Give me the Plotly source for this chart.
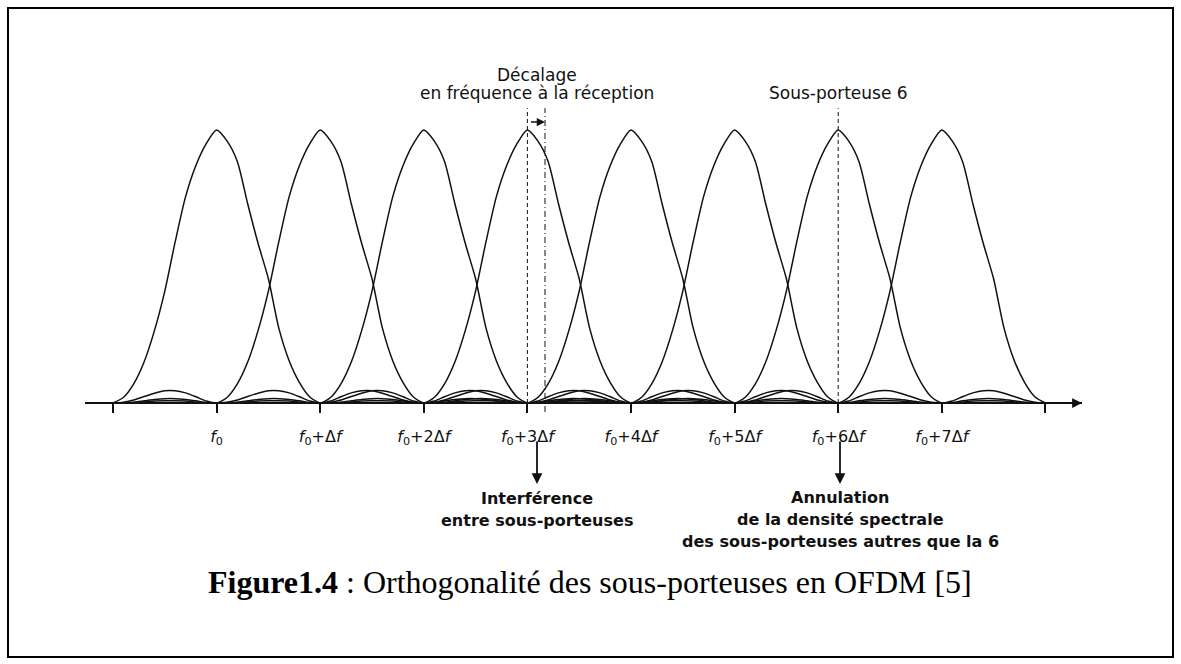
import plotly.graph_objects as go

# ---- data -----------------------------------------------------------------
# normalised spectral density of one sub-carrier vs. offset from its centre (in Δf)
pulse_offsets = [0.0, 0.1, 0.2, 0.3, 0.4, 0.5, 0.6, 0.7, 0.8, 0.9,
                 1.0, 1.1, 1.2, 1.3, 1.4, 1.5, 1.6, 1.7, 1.8, 1.9,
                 2.0, 2.1, 2.2, 2.3, 2.4, 2.5, 2.6, 2.7, 2.8, 2.9,
                 3.0, 3.1, 3.2, 3.3, 3.4, 3.5, 3.6, 3.7, 3.8, 3.9, 4.0]
# right-hand side of the pulse (higher frequencies)
pulse_right = [1.00, 0.96, 0.885, 0.73, 0.585, 0.455, 0.275, 0.155, 0.075, 0.022,
               0.0, 0.007, 0.023, 0.037, 0.045, 0.045, 0.036, 0.024, 0.011, 0.003,
               0.0, 0.002, 0.008, 0.013, 0.016, 0.016, 0.013, 0.008, 0.003, 0.001,
               0.0, 0.001, 0.004, 0.007, 0.008, 0.008, 0.007, 0.004, 0.002, 0.0005, 0.0]
# left-hand side of the pulse (lower frequencies)
pulse_left = [1.00, 0.95, 0.87, 0.755, 0.59, 0.41, 0.265, 0.15, 0.07, 0.02,
              0.0, 0.007, 0.023, 0.037, 0.045, 0.045, 0.036, 0.024, 0.011, 0.003,
              0.0, 0.002, 0.008, 0.013, 0.016, 0.016, 0.013, 0.008, 0.003, 0.001,
              0.0, 0.001, 0.004, 0.007, 0.008, 0.008, 0.007, 0.004, 0.002, 0.0005, 0.0]
carriers = [0, 1, 2, 3, 4, 5, 6, 7]
freq_span = [-1, 8]
tick_positions = [-1, 0, 1, 2, 3, 4, 5, 6, 7, 8]
tick_labels = ["", "<i>f</i><sub>0</sub>", "<i>f</i><sub>0</sub>+Δ<i>f</i>",
               "<i>f</i><sub>0</sub>+2Δ<i>f</i>", "<i>f</i><sub>0</sub>+3Δ<i>f</i>",
               "<i>f</i><sub>0</sub>+4Δ<i>f</i>", "<i>f</i><sub>0</sub>+5Δ<i>f</i>",
               "<i>f</i><sub>0</sub>+6Δ<i>f</i>", "<i>f</i><sub>0</sub>+7Δ<i>f</i>", ""]
interference_carrier = 3
reception_offset = 0.17
observed_carrier = 6
marker_top = 1.08

top_left_text = ["Décalage", "en fréquence à la réception"]
top_right_text = ["Sous-porteuse 6"]
bottom_left_text = ["Interférence", "entre sous-porteuses"]
bottom_right_text = ["Annulation", "de la densité spectrale",
                     "des sous-porteuses autres que la 6"]
caption = "<b>Figure1.4</b> : Orthogonalité des sous-porteuses en OFDM [5]"

# ---- geometry ---------------------------------------------------------------
W, H = 1181, 664
PX_PER_DF = 103.6          # pixels per Δf
X_START_PX = 113           # pixel of freq_span[0]
Y0_PX = 403                # baseline pixel
PX_PER_UNIT = 273          # pixels per unit of density
L_PX, R_PX = 85, 1082

def xpx(px):
    return freq_span[0] + (px - X_START_PX) / PX_PER_DF

def ypx(px):
    return (Y0_PX - px) / PX_PER_UNIT

x_range = [xpx(L_PX), xpx(R_PX)]
y_range = [ypx(H), ypx(0)]

fig = go.Figure()

line_style = dict(color="#111111", width=1.5)

for k in carriers:
    xs, ys = [], []
    for o, v in list(zip(pulse_offsets[1:], pulse_left[1:]))[::-1]:
        xs.append(k - o); ys.append(v)
    for o, v in zip(pulse_offsets, pulse_right):
        xs.append(k + o); ys.append(v)
    pts = [(x, y) for x, y in zip(xs, ys) if freq_span[0] - 1e-9 <= x <= freq_span[1] + 1e-9]
    fig.add_trace(go.Scatter(x=[p[0] for p in pts], y=[p[1] for p in pts],
                             mode="lines", line=dict(shape="spline", smoothing=0.7, **line_style),
                             hoverinfo="skip", showlegend=False))

# vertical reference lines
fig.add_trace(go.Scatter(x=[interference_carrier, interference_carrier], y=[0, marker_top],
                         mode="lines", line=dict(color="#111111", width=1, dash="4px,3px"),
                         showlegend=False, hoverinfo="skip"))
fig.add_trace(go.Scatter(x=[interference_carrier + reception_offset] * 2, y=[-0.033, marker_top],
                         mode="lines", line=dict(color="#111111", width=1, dash="6px,3px,1px,3px"),
                         showlegend=False, hoverinfo="skip"))
fig.add_trace(go.Scatter(x=[observed_carrier, observed_carrier], y=[0, marker_top],
                         mode="lines", line=dict(color="#111111", width=1, dash="4px,3px"),
                         showlegend=False, hoverinfo="skip"))

axis_pos = (0 - y_range[0]) / (y_range[1] - y_range[0])

annotations = []
sans = "DejaVu Sans"

def txt(x, y, s, size=17, family=sans, color="#111111"):
    annotations.append(dict(x=x, y=y, xref="x", yref="y", text=s, showarrow=False,
                            xanchor="center", yanchor="middle",
                            font=dict(family=family, size=size, color=color)))

def arrow(x, y, ax, ay, size=1.0, width=1.5):
    annotations.append(dict(x=x, y=y, ax=ax, ay=ay, xref="x", yref="y", axref="x", ayref="y",
                            text="", showarrow=True, arrowhead=2, arrowsize=size,
                            arrowwidth=width, arrowcolor="#111111", standoff=0, startstandoff=0))

xc_left = xpx(537)
xc_right = xpx(840)
txt(xc_left, ypx(75), top_left_text[0])
txt(xc_left, ypx(93), top_left_text[1])
txt(xpx(838), ypx(93), top_right_text[0])

bl_y = [498, 520]
for s, yy in zip(bottom_left_text, bl_y):
    txt(xc_left, ypx(yy), "<b>" + s + "</b>", size=16)
br_y = [497, 519, 541]
for s, yy in zip(bottom_right_text, br_y):
    txt(xc_right, ypx(yy), "<b>" + s + "</b>", size=16)

txt(xpx(590), ypx(582), caption, size=32, family="Liberation Serif", color="#000000")

# arrows
arrow(interference_carrier + reception_offset, ypx(122), interference_carrier + 0.02, ypx(122), size=1.1, width=1.5)
arrow(xc_left, ypx(484), xc_left, ypx(440), size=1.2, width=1.8)
arrow(xc_right, ypx(484), xc_right, ypx(440), size=1.2, width=1.8)
arrow(x_range[1] - 0.001, 0, xpx(1064), 0, size=1.3, width=1.5)

fig.update_layout(
    width=W, height=H,
    margin=dict(l=L_PX, r=W - R_PX, t=0, b=0),
    paper_bgcolor="white", plot_bgcolor="white",
    showlegend=False,
    annotations=annotations,
    xaxis=dict(range=x_range, anchor="free", position=axis_pos,
               showline=True, linecolor="#111111", linewidth=1.5,
               ticks="outside", ticklen=9, tickwidth=1.5, tickcolor="#111111",
               tickvals=tick_positions, ticktext=tick_labels,
               tickfont=dict(family=sans, size=16, color="#111111"),
               ticklabelstandoff=10,
               showgrid=False, zeroline=False, fixedrange=True),
    yaxis=dict(range=y_range, visible=False, showgrid=False, zeroline=False, fixedrange=True),
    shapes=[dict(type="rect", xref="paper", yref="paper",
                 x0=(8 - L_PX) / (R_PX - L_PX), x1=(1173 - L_PX) / (R_PX - L_PX),
                 y0=1 - 657 / H, y1=1 - 8 / H,
                 line=dict(color="black", width=2))],
)

fig.write_html("out.html", config={"displayModeBar": False},
               post_script="document.body.style.margin='0';document.body.style.overflow='hidden';")
